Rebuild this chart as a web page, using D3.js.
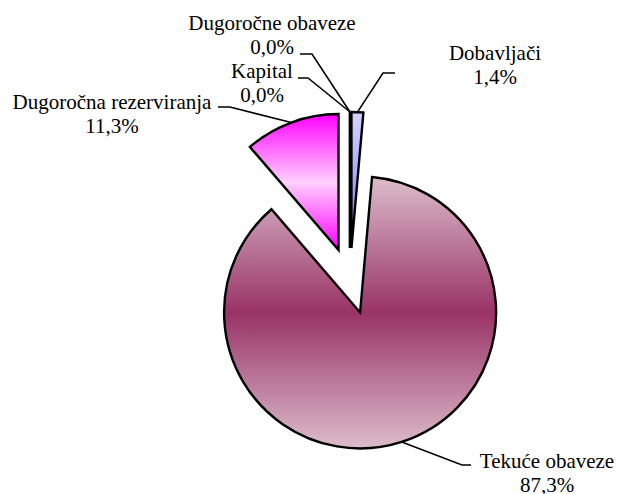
<!DOCTYPE html>
<html>
<head>
<meta charset="utf-8">
<script src="https://cdn.jsdelivr.net/npm/d3@7"></script>
<style>
  body { margin: 0; background: #fff; }
</style>
</head>
<body>
<div id="chart"></div>
<script>
// Struktura pasive - exploded pie
const categories = ['Dobavljači', 'Tekuće obaveze', 'Dugoročna rezerviranja', 'Kapital', 'Dugoročne obaveze'];
const values = [1.4, 87.3, 11.3, 0.0, 0.0];
const labelsPct = ['1,4%', '87,3%', '11,3%', '0,0%', '0,0%'];

// label layout: text centre, first baseline, leader elbow and end
const labelLayout = [
  { tx: 495, ty: 60, elbow: [383, 73], end: [395, 73] },
  { tx: 547, ty: 468, elbow: [462, 465], end: [471, 465] },
  { tx: 112, ty: 109, elbow: [230, 107], end: [218, 107] },
  { tx: 262, ty: 78, elbow: [308, 78], end: [298, 78] },
  { tx: 272, ty: 30, elbow: [312, 54], end: [300, 54] }
];

const width = 617, height = 494;
const cx = 350, cy = 281, radius = 136, explode = 33;

const svg = d3.select('#chart').append('svg')
  .attr('width', width)
  .attr('height', height);

const defs = svg.append('defs');

// gradients (vertical, like Excel fill effects)
const gradients = [
  { id: 'g0', stops: [['0%', '#d4d4ff'], ['100%', '#7777ff']] },
  { id: 'g1', stops: [['0%', '#dcbccc'], ['50%', '#993366'], ['100%', '#dcbccc']] },
  { id: 'g2', stops: [['0%', '#ff00ff'], ['50%', '#ffd0ff'], ['100%', '#ff00ff']] },
  { id: 'g3', stops: [['0%', '#ffffcc'], ['100%', '#ffff66']] },
  { id: 'g4', stops: [['0%', '#ccffff'], ['100%', '#66ffff']] }
];

gradients.forEach(g => {
  const lg = defs.append('linearGradient')
    .attr('id', g.id)
    .attr('x1', 0).attr('y1', 0)
    .attr('x2', 0).attr('y2', 1);
  g.stops.forEach(s => lg.append('stop').attr('offset', s[0]).attr('stop-color', s[1]));
});

const pie = d3.pie().sort(null).startAngle(0).endAngle(2 * Math.PI);
const arcs = pie(values);

const arc = d3.arc().innerRadius(0).outerRadius(radius);
const outerArc = d3.arc().innerRadius(radius).outerRadius(radius);

function offset(d) {
  const a = (d.startAngle + d.endAngle) / 2;
  return [cx + explode * Math.sin(a), cy - explode * Math.cos(a)];
}

const g = svg.append('g');

// slices
g.selectAll('path.slice')
  .data(arcs)
  .join('path')
  .attr('class', 'slice')
  .attr('transform', d => `translate(${offset(d)})`)
  .attr('d', arc)
  .attr('fill', (d, i) => `url(#g${i})`)
  .attr('stroke', '#000')
  .attr('stroke-width', 2.4)
  .attr('stroke-linejoin', 'miter');

// leader lines
g.selectAll('polyline.leader')
  .data(arcs)
  .join('polyline')
  .attr('class', 'leader')
  .attr('fill', 'none')
  .attr('stroke', '#000')
  .attr('stroke-width', 1.6)
  .attr('points', (d, i) => {
    const o = offset(d);
    const p = d.endAngle - d.startAngle > 0 ? outerArc.centroid(d) : [radius * Math.sin(d.startAngle), -radius * Math.cos(d.startAngle)];
    const start = [o[0] + p[0], o[1] + p[1]];
    const L = labelLayout[i];
    return [start, L.elbow, L.end].map(q => q.join(',')).join(' ');
  });

// labels
const lbl = g.selectAll('text.lbl')
  .data(arcs)
  .join('text')
  .attr('class', 'lbl')
  .attr('text-anchor', 'middle')
  .style('font-family', '"Liberation Serif"')
  .style('font-size', '21px')
  .attr('fill', '#000');

lbl.append('tspan')
  .attr('x', (d, i) => labelLayout[i].tx)
  .attr('y', (d, i) => labelLayout[i].ty)
  .text((d, i) => categories[i]);

lbl.append('tspan')
  .attr('x', (d, i) => labelLayout[i].tx)
  .attr('y', (d, i) => labelLayout[i].ty + 24)
  .text((d, i) => labelsPct[i]);
</script>
</body>
</html>
